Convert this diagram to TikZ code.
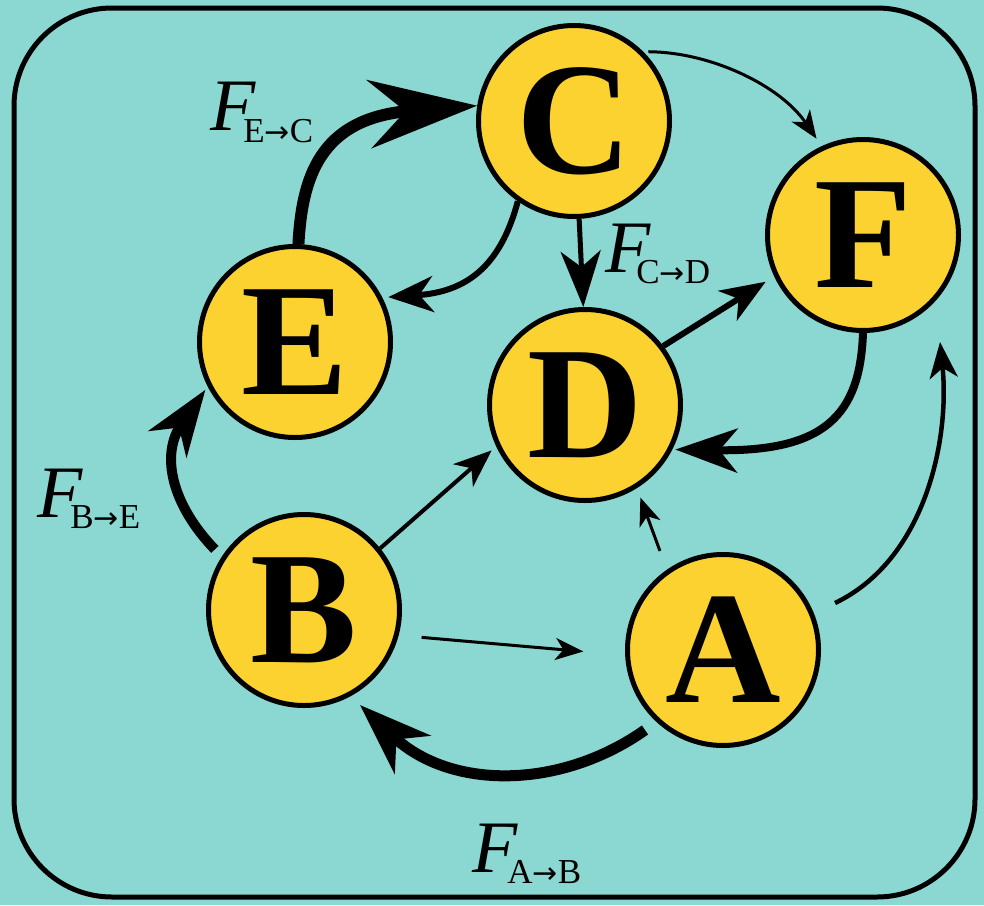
\documentclass[tikz,border=0pt]{standalone}
\usepackage{fontspec}
\setmainfont{Liberation Serif}
\newfontfamily\arrfont{DejaVu Sans}
\usetikzlibrary{arrows.meta,calc}
\definecolor{bgteal}{HTML}{8BD8D2}
\definecolor{nodeyellow}{HTML}{FCD230}
\newcommand{\subsz}{\fontsize{35}{35}\selectfont\upshape}
\newcommand{\arsz}{\fontsize{30}{30}\selectfont\arrfont}
\begin{document}
\begin{tikzpicture}[x=1pt,y=-1pt,
  vtx/.style={circle,draw=black,line width=5pt,fill=nodeyellow,minimum size=191pt,inner sep=0pt,font=\fontsize{160}{160}\selectfont\bfseries},
  thinarrow/.style={line width=3pt,-{Stealth[length=28pt,width=22pt,inset=8pt]}},
  midarrow/.style={line width=5pt,-{Stealth[length=56pt,width=40pt,inset=16pt]}},
  thickarrow/.style={line width=10pt,-{Stealth[length=66pt,width=46pt,inset=20pt]}},
  lbl/.style={anchor=base west,inner sep=0pt,font=\fontsize{74}{74}\selectfont\itshape}]
\useasboundingbox (0,0) rectangle (984,905);
\fill[bgteal] (0,0) rectangle (984,905);
\draw[line width=5pt,rounded corners=98pt] (14,8) rectangle (975,897);

\node[vtx] (C) at (574,121) {C};
\node[vtx] (E) at (295,342) {E};
\node[vtx] (D) at (585,405) {D};
\node[vtx] (B) at (304,610) {B};
\node[vtx] (A) at (723,650) {A};
\node[vtx] (F) at (863,235) {F};

% E -> C
\draw[line width=12pt,-{Stealth[length=108pt,width=68pt,inset=36pt]}]
  (E.88) .. controls (302,180) and (318,118) .. (C.171);
% C -> E
\draw[line width=6pt,-{Stealth[length=45pt,width=36pt,inset=14pt]},shorten >=6pt]
  (C.235) .. controls (500,268) and (465,292) .. (E.27);
% C -> D
\draw[midarrow] (C.273) -- (D.91);
% C -> F
\draw[thinarrow,shorten <=5pt,shorten >=9pt]
  (C.45) .. controls (710,52) and (780,85) .. (F.115);
% D -> F
\draw[line width=6pt,-{Stealth[length=45pt,width=35pt,inset=13pt]},shorten >=10pt]
  (D.37) -- (F.205);
% F -> D
\draw[line width=8pt,-{Stealth[length=62pt,width=44pt,inset=18pt]},shorten >=3pt]
  (F.270) .. controls (860,415) and (825,452) .. (D.333);
% B -> E
\draw[thickarrow,shorten <=10pt,shorten >=4pt]
  (B.147) .. controls (172,505) and (160,455) .. (E.207);
% B -> D
\draw[line width=4pt,-{Stealth[length=38pt,width=30pt,inset=11pt]},shorten >=6pt]
  (B.39) -- (D.205);
% B -> A
\draw[thinarrow,shorten <=23pt,shorten >=42pt] (B.345) -- (A.183);
% A -> D
\draw[thinarrow,shorten <=20pt,shorten >=10pt] (A.125) -- (D.302);
% A -> F
\draw[line width=4.5pt,-{Stealth[length=36pt,width=28pt,inset=10pt]}]
  ($(A)+(112,-47)$) .. controls (925,560) and (950,440) .. ($(F)+(77,107)$);
% A -> B
\draw[line width=11pt,-{Stealth[length=72pt,width=52pt,inset=22pt]}]
  ($(A)+(-78,80)$) .. controls (560,790) and (450,790) .. ($(B)+(56,95)$);

% labels
\node[lbl] (lEC) at (210,130) {F\kern-12pt\raisebox{-12pt}{\subsz E{\arsz →}C}};
\node[lbl] (lCD) at (605,272) {F\kern-14pt\raisebox{-11pt}{\subsz C{\arsz →}D}};
\node[lbl] (lBE) at (37,517) {F\kern-12pt\raisebox{-11pt}{\subsz B{\arsz →}E}};
\node[lbl] (lAB) at (472,872) {F\kern-10pt\raisebox{-11pt}{\subsz A{\arsz →}B}};
\end{tikzpicture}
\end{document}
